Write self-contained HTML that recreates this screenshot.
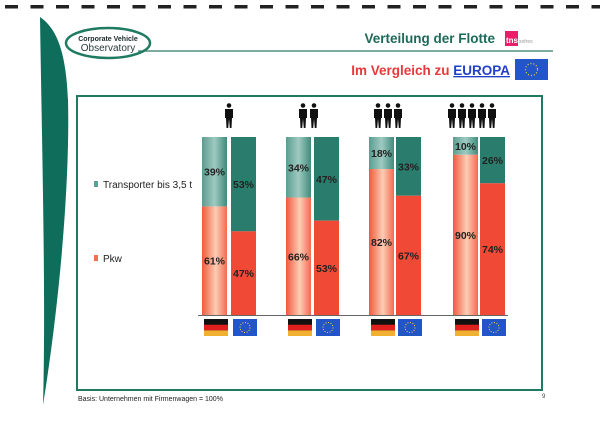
<!DOCTYPE html>
<html><head><meta charset="utf-8"><style>
body{margin:0;width:600px;height:425px;background:#fff;overflow:hidden;font-family:"Liberation Sans",sans-serif}
</style></head><body>
<svg id="s" width="600" height="425" xmlns="http://www.w3.org/2000/svg" font-family="Liberation Sans, sans-serif">
<defs>
<linearGradient id="dt" x1="0" x2="1" y1="0" y2="0"><stop offset="0" stop-color="#5a9d90"/><stop offset="0.5" stop-color="#9fcac1"/><stop offset="1" stop-color="#3f8c7c"/></linearGradient>
<linearGradient id="dr" x1="0" x2="1" y1="0" y2="0"><stop offset="0" stop-color="#f2583f"/><stop offset="0.55" stop-color="#fbcdb4"/><stop offset="1" stop-color="#f36a50"/></linearGradient>
</defs>
<g id="dash"></g>
<path d="M40,17 C42,150 46,300 43,405 C60,300 70,180 68,100 C66,50 56,28 40,17 Z" fill="#0f6d5c"/>
<ellipse cx="108" cy="43" rx="42" ry="15" fill="#fff" stroke="#1f7a62" stroke-width="2.5"/>
<text x="108" y="41" font-size="7" font-weight="bold" text-anchor="middle" fill="#1a2a2a">Corporate Vehicle</text>
<text x="108" y="51" font-size="10" text-anchor="middle" fill="#2a3a3a">Observatory</text>
<text x="495" y="43" font-size="13.5" font-weight="bold" text-anchor="end" fill="#1d6a5a">Verteilung der Flotte</text>
<rect x="505" y="31" width="13" height="15" fill="#e8206a"/>
<text x="506" y="43" font-size="8" fill="#fff" font-weight="bold">tns</text>
<text x="519" y="43" font-size="5" fill="#999">sofres</text>
<line x1="138" y1="51" x2="553" y2="51" stroke="#2e7a66" stroke-width="1.2"/>
<text x="510" y="75" font-size="13.5" font-weight="bold" text-anchor="end" fill="#e8383a"><tspan>Im Vergleich zu </tspan><tspan fill="#2140c8" text-decoration="underline">EUROPA</tspan></text>
<rect x="515" y="59" width="33" height="21" fill="#2255c8"/>
<circle cx="531.5" cy="69.5" r="6" fill="none" stroke="#ffd633" stroke-width="1.2" stroke-dasharray="1 2"/>
<rect x="77" y="96" width="465" height="294" fill="none" stroke="#1f7a62" stroke-width="2"/>
<rect x="94" y="181" width="4" height="6" fill="#5aa098"/>
<text x="103" y="188" font-size="10" fill="#222">Transporter bis 3,5 t</text>
<rect x="94" y="255" width="4" height="6" fill="#f07050"/>
<text x="103" y="262" font-size="10" fill="#222">Pkw</text>
<line x1="198" y1="315.5" x2="508" y2="315.5" stroke="#666" stroke-width="1"/>
<text x="78" y="401" font-size="7" fill="#222">Basis: Unternehmen mit Firmenwagen = 100%</text>
<text x="542" y="398" font-size="6" fill="#444">9</text>
<g id="bars"></g>
</svg>
<script>
var ns="http://www.w3.org/2000/svg",b=document.getElementById("bars"),dsh=document.getElementById("dash");
function el(t,a,p){var e=document.createElementNS(ns,t);for(var k in a)e.setAttribute(k,a[k]);(p||b).appendChild(e);return e}
for(var x=5;x<600;x+=25.5)el("rect",{x:x,y:5,width:13,height:3.5,fill:"#222"},dsh);
var G=[[202,231,39,53,[229]],[286,314,34,47,[303,314]],[369,396,18,33,[378,388,398]],[453,480,10,26,[452,462,472,482,492]]];
var T=137,H=178;
function bar(x,p,de){var th=H*p/100;
el("rect",{x:x,y:T,width:25,height:th,fill:de?"url(#dt)":"#2a7d6c"});
el("rect",{x:x,y:T+th,width:25,height:H-th,fill:de?"url(#dr)":"#f04a36"});
var t=el("text",{x:x+12.5,y:T+th/2+4,"font-size":"10.5","font-weight":"bold","text-anchor":"middle",fill:"#222"});t.textContent=p+"%";
var t2=el("text",{x:x+12.5,y:T+th+(H-th)/2+4,"font-size":"10.5","font-weight":"bold","text-anchor":"middle",fill:"#222"});t2.textContent=(100-p)+"%";}
function person(x){var g=el("g",{transform:"translate("+(x-4.5)+",103)",fill:"#111"});
el("circle",{cx:4.5,cy:2.5,r:2.3},g);
el("path",{d:"M0.5,6 H8.5 V15 H7.5 L7,25 H5.3 L4.5,16 L3.7,25 H2 L1.5,15 H0.5 Z"},g);}
G.forEach(function(g){bar(g[0],g[2],1);bar(g[1],g[3],0);g[4].forEach(person);
el("rect",{x:g[0]+2,y:319,width:24,height:17,fill:"#111"});
el("rect",{x:g[0]+2,y:324.7,width:24,height:5.7,fill:"#e0201c"});
el("rect",{x:g[0]+2,y:330.4,width:24,height:5.6,fill:"#f0b030"});
el("rect",{x:g[1]+2,y:319,width:24,height:17,fill:"#2255c8"});
el("circle",{cx:g[1]+14,cy:327.5,r:5,fill:"none",stroke:"#ffd633","stroke-width":1,"stroke-dasharray":"1 1.6"});});
</script>
</body></html>
